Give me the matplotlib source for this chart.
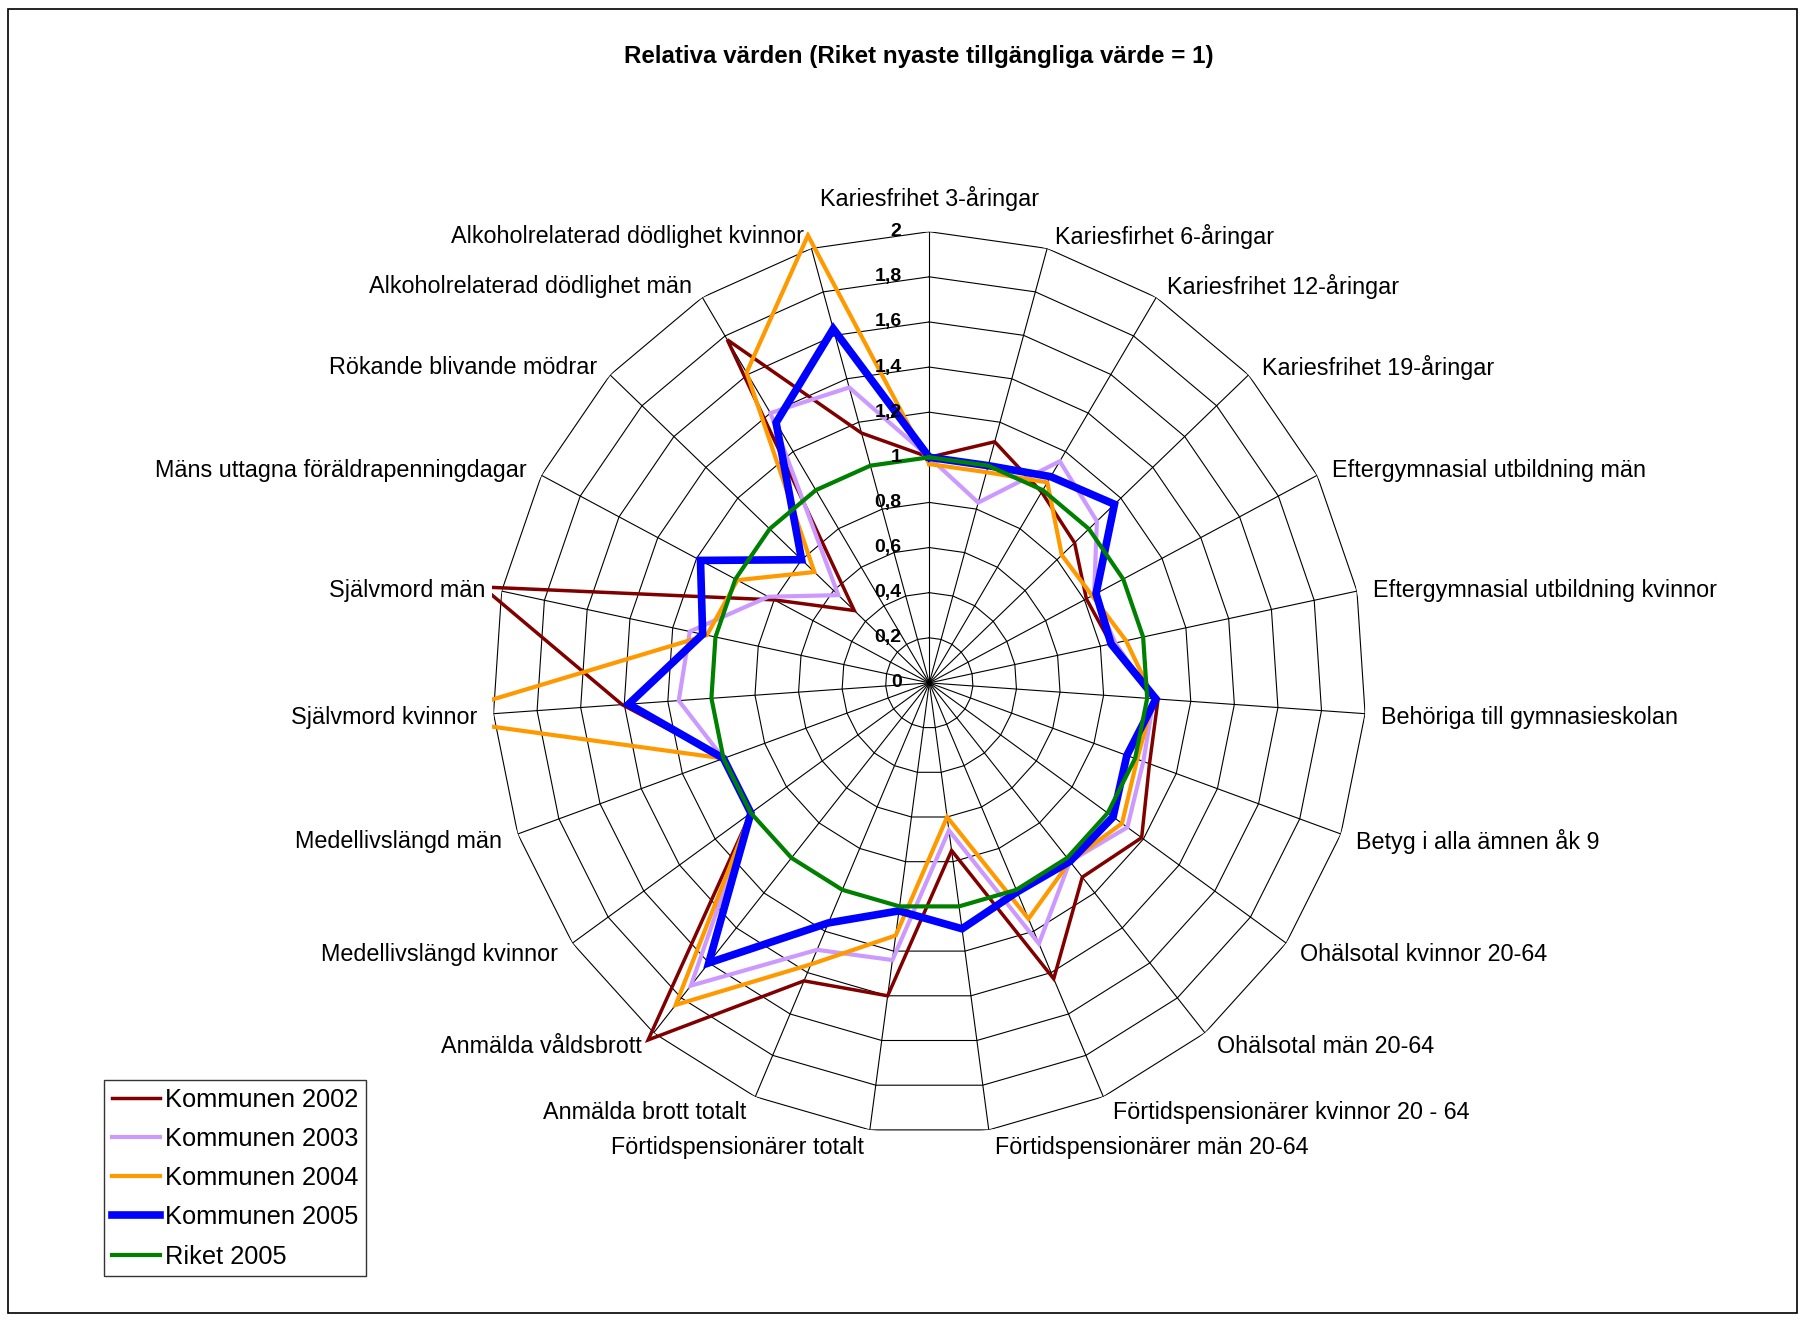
import numpy as np
import matplotlib
matplotlib.use("Agg")
import matplotlib.pyplot as plt
from matplotlib.patches import Rectangle
from matplotlib.lines import Line2D

plt.rcParams['font.family'] = ['Liberation Sans', 'DejaVu Sans']

# 1 data
categories = [
    'Kariesfrihet 3-åringar', 'Kariesfirhet 6-åringar', 'Kariesfrihet 12-åringar',
    'Kariesfrihet 19-åringar', 'Eftergymnasial utbildning män',
    'Eftergymnasial utbildning kvinnor', 'Behöriga till gymnasieskolan',
    'Betyg i alla ämnen åk 9', 'Ohälsotal kvinnor 20-64', 'Ohälsotal män 20-64',
    'Förtidspensionärer kvinnor 20 - 64', 'Förtidspensionärer män 20-64',
    'Förtidspensionärer totalt', 'Anmälda brott totalt', 'Anmälda våldsbrott',
    'Medellivslängd kvinnor', 'Medellivslängd män', 'Självmord kvinnor',
    'Självmord män', 'Mäns uttagna föräldrapenningdagar', 'Rökande blivande mödrar',
    'Alkoholrelaterad dödlighet män', 'Alkoholrelaterad dödlighet kvinnor',
]

kommunen_2002 = [1.00, 1.11, 0.99, 0.91, 0.81, 0.85, 1.05, 1.07, 1.19, 1.11, 1.43, 0.75,
                 1.40, 1.44, 2.04, 1.00, 1.00, 1.41, 2.09, 0.80, 0.47, 1.78, 1.15]
kommunen_2003 = [1.00, 0.83, 1.15, 1.05, 0.85, 0.87, 1.03, 1.04, 1.11, 1.02, 1.26, 0.66,
                 1.24, 1.29, 1.73, 1.00, 1.00, 1.15, 1.12, 0.83, 0.57, 1.40, 1.36]
kommunen_2004 = [0.97, 0.97, 1.04, 0.83, 0.84, 0.92, 1.03, 1.01, 1.08, 1.02, 1.14, 0.60,
                 1.13, 1.36, 1.84, 1.00, 1.00, 2.29, 1.04, 0.99, 0.72, 1.61, 2.06]
kommunen_2005 = [1.00, 1.00, 1.07, 1.16, 0.86, 0.85, 1.04, 0.96, 1.03, 1.02, 1.01, 1.10,
                 1.02, 1.16, 1.60, 1.00, 1.00, 1.38, 1.06, 1.18, 0.80, 1.35, 1.63]
riket_2005 = [1.00] * 23

series_names = ['Kommunen 2002', 'Kommunen 2003', 'Kommunen 2004', 'Kommunen 2005', 'Riket 2005']
series_values = [kommunen_2002, kommunen_2003, kommunen_2004, kommunen_2005, riket_2005]
series_colors = ['#800000', '#CC99FF', '#FF9900', '#0000FF', '#008000']
series_widths = [2.5, 3.0, 3.0, 5.5, 3.0]

ring_values = [0.2, 0.4, 0.6, 0.8, 1.0, 1.2, 1.4, 1.6, 1.8, 2.0]
tick_labels = ['0', '0,2', '0,4', '0,6', '0,8', '1', '1,2', '1,4', '1,6', '1,8', '2']

# 2 figure
W, H = 1806, 1321
fig = plt.figure(figsize=(W / 100, H / 100), dpi=100)
fig.patches.append(Rectangle((8 / W, 1 - 1313 / H), 1789 / W, 1304 / H,
                             transform=fig.transFigure, fill=False,
                             edgecolor='black', lw=1.2))

ax = fig.add_axes([492.5 / W, 1 - 1134.1 / H, 873.6 / W, 902.4 / H], projection='polar')
ax.set_aspect('auto')
ax.set_theta_zero_location('N')
ax.set_theta_direction(-1)
ax.set_ylim(0, 2)
ax.set_xticks([])
ax.set_yticks([])
ax.grid(False)
ax.spines['polar'].set_visible(False)
ax.patch.set_alpha(0)

n = len(categories)
theta = np.arange(n) * 2 * np.pi / n
theta_closed = np.append(theta, theta[0])

# polygon grid
for v in ring_values:
    ax.plot(theta_closed, [v] * (n + 1), color='black', lw=0.8, zorder=1)
for t in theta:
    ax.plot([t, t], [0, 2], color='black', lw=0.8, zorder=1)

clip_rect = Rectangle((0, 0), 1, 1, transform=ax.transAxes)
for name, vals, col, lw in zip(series_names, series_values, series_colors, series_widths):
    line, = ax.plot(theta_closed, list(vals) + [vals[0]], color=col, lw=lw,
                    solid_joinstyle='miter', label=name, zorder=3)
    line.set_clip_path(clip_rect)

# value labels on the vertical axis
for i, lab in enumerate(tick_labels):
    ax.annotate(lab, xy=(0, i * 0.2), xytext=(-20, 0), textcoords='offset points',
                ha='right', va='center', fontsize=14, fontweight='bold',
                annotation_clip=False, zorder=4)

# category labels
k = 0.829
for t, cat in zip(theta, categories):
    s, c = np.sin(t), np.cos(t)
    if abs(s) < 1e-6:
        ax.annotate(cat, xy=(t, 2.0), xytext=(0, 29 * k), textcoords='offset points',
                    ha='center', va='center', fontsize=16.8, annotation_clip=False)
        continue
    dx = np.sign(s) * (4 + 10 * abs(s))
    dy = -13 * c + 2
    ax.annotate(cat, xy=(t, 2.0), xytext=(dx * k, -dy * k), textcoords='offset points',
                ha='left' if s > 0 else 'right', va='center', fontsize=16.8,
                annotation_clip=False)

fig.text(918.6 / W, 1 - 56 / H, 'Relativa värden (Riket nyaste tillgängliga värde = 1)',
         ha='center', va='center', fontsize=17.4, fontweight='bold')

handles = [Line2D([], [], color=c, lw=w) for c, w in zip(series_colors, series_widths)]
leg = fig.legend(handles, series_names, loc='upper left',
                 bbox_to_anchor=(104 / W, 1 - 1080 / H), bbox_transform=fig.transFigure,
                 fontsize=18.3, frameon=True, fancybox=False, edgecolor='black',
                 handlelength=1.9, handletextpad=0.2, borderpad=0.3, labelspacing=0.6,
                 borderaxespad=0)
leg.get_frame().set_linewidth(1.0)

fig.savefig('out.png', dpi=100)
